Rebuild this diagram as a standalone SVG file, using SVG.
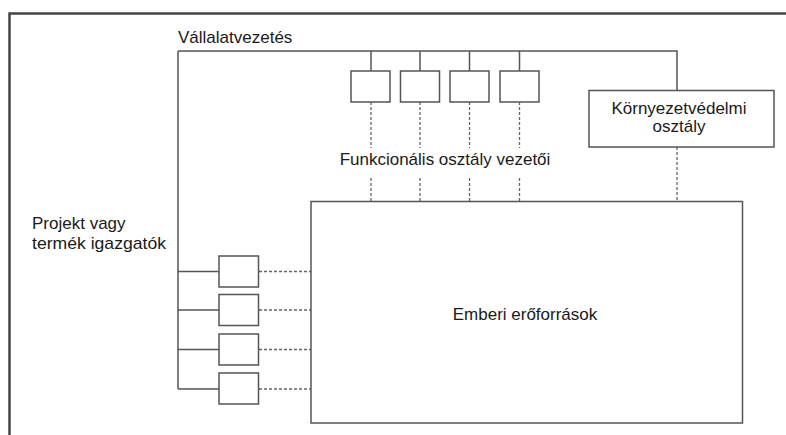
<svg xmlns="http://www.w3.org/2000/svg" width="786" height="435" viewBox="0 0 786 435">
<style>
.t{font-family:"Liberation Sans",Arial,sans-serif;font-size:17px;fill:#1a1a1a}
.box{fill:#fff;stroke:#555;stroke-width:1.5}
.ln{fill:none;stroke:#555;stroke-width:1.5}
.ds{fill:none;stroke:#666;stroke-width:1.3;stroke-dasharray:3 2}
</style>
<rect width="786" height="435" fill="#fff"/>
<path d="M9.5 435 V13.5 H786" fill="none" stroke="#444" stroke-width="2.5"/>
<g id="connectors">
<path class="ln" d="M178 51 H677 V90 M178 51 V389 M371 51 V71 M420 51 V71 M469.5 51 V71 M519.5 51 V71 M178 271.5 H219 M178 310 H219 M178 349.5 H219 M178 389 H219"/>
<path class="ds" d="M371 102 V148 M420 102 V148 M469.5 102 V148 M519.5 102 V148 M371 178 V201 M420 178 V201 M469.5 178 V201 M519.5 178 V201 M677 147 V201 M259 271.5 H311 M259 310 H311 M259 349.5 H311 M259 389 H311"/>
</g>
<g id="vallalatvezetes"><text class="t" x="178" y="43">Vállalatvezetés</text></g>
<g id="funk1"><rect class="box" x="351" y="71" width="39" height="31"/></g>
<g id="funk2"><rect class="box" x="400.5" y="71" width="39" height="31"/></g>
<g id="funk3"><rect class="box" x="450" y="71" width="39" height="31"/></g>
<g id="funk4"><rect class="box" x="500" y="71" width="39" height="31"/></g>
<g id="funk-label"><text class="t" x="445" y="165" text-anchor="middle">Funkcionális osztály vezetői</text></g>
<g id="kornyezet"><rect class="box" x="589" y="90.5" width="185" height="56.5"/>
<text class="t" x="679" y="114" text-anchor="middle">Környezetvédelmi</text>
<text class="t" x="679" y="132" text-anchor="middle">osztály</text></g>
<g id="emberi"><rect class="box" x="311" y="201.5" width="431.5" height="221.5"/>
<text class="t" x="525" y="320" text-anchor="middle">Emberi erőforrások</text></g>
<g id="projekt-label"><text class="t" x="32" y="229">Projekt vagy</text><text class="t" x="32" y="248.5" textLength="134" lengthAdjust="spacingAndGlyphs">termék igazgatók</text></g>
<g id="proj1"><rect class="box" x="219" y="256" width="39.5" height="31"/></g>
<g id="proj2"><rect class="box" x="219" y="294.5" width="39.5" height="31"/></g>
<g id="proj3"><rect class="box" x="219" y="334" width="39.5" height="31"/></g>
<g id="proj4"><rect class="box" x="219" y="373" width="39.5" height="31"/></g>
</svg>
